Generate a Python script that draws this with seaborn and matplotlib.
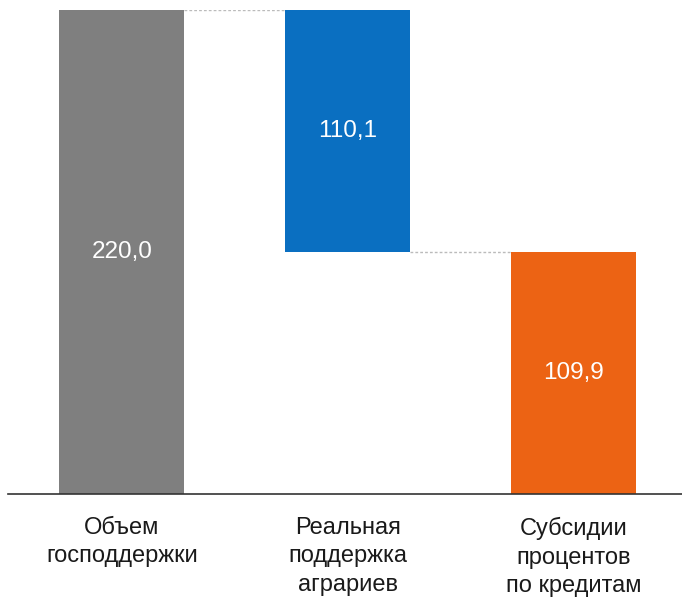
import matplotlib
matplotlib.use("Agg")
import matplotlib.pyplot as plt
import seaborn as sns
import pandas as pd

categories = ["Объем\nгосподдержки", "Реальная\nподдержка\nаграриев", "Субсидии\nпроцентов\nпо кредитам"]
values = [220.0, 110.1, 109.9]
bases = [0.0, 109.9, 0.0]
labels = ["220,0", "110,1", "109,9"]
colors = ["#7f7f7f", "#0a6fc1", "#ec6314"]

sns.set_style("white")
plt.rcParams["font.family"] = ["Liberation Sans", "DejaVu Sans"]

df = pd.DataFrame({"cat": categories, "val": values})

fig = plt.figure(figsize=(6.82, 5.99), dpi=100)
ax = fig.add_axes([8 / 682, 105 / 599, 674 / 682, 484 / 599])

sns.barplot(data=df, x="cat", y="val", bottom=bases, width=0.553,
            color=colors[0], saturation=1, ax=ax)

for p, c in zip(ax.patches, colors):
    p.set_facecolor(c)
    p.set_edgecolor("none")

# value labels in the middle of each bar
for p, lab in zip(ax.patches, labels):
    ax.text(p.get_x() + p.get_width() / 2, p.get_y() + p.get_height() / 2, lab,
            ha="center", va="center", color="white", fontsize=17.5)

# dotted connectors between bars
pts = ax.patches
for i in range(len(pts) - 1):
    level = pts[i].get_y() + pts[i].get_height() if i == 0 else pts[i].get_y()
    ax.plot([pts[i].get_x() + pts[i].get_width(), pts[i + 1].get_x()], [level, level],
            ls=(0, (2, 1.5)), color="#bbbbbb", lw=1)

ax.set_xlim(-0.504, 2.48)
ax.set_ylim(0, 220)
ax.set_xlabel("")
ax.set_ylabel("")
ax.set_yticks([])
ax.tick_params(axis="x", length=0, pad=16.5, labelsize=17, colors="#1a1a1a")
for lab in ax.get_xticklabels():
    lab.set_linespacing(1.38)
    lab.set_va("top")
for s in ["top", "left", "right"]:
    ax.spines[s].set_visible(False)
ax.spines["bottom"].set_color("#333333")
ax.spines["bottom"].set_linewidth(1.2)

fig.savefig("out.png", dpi=100)
